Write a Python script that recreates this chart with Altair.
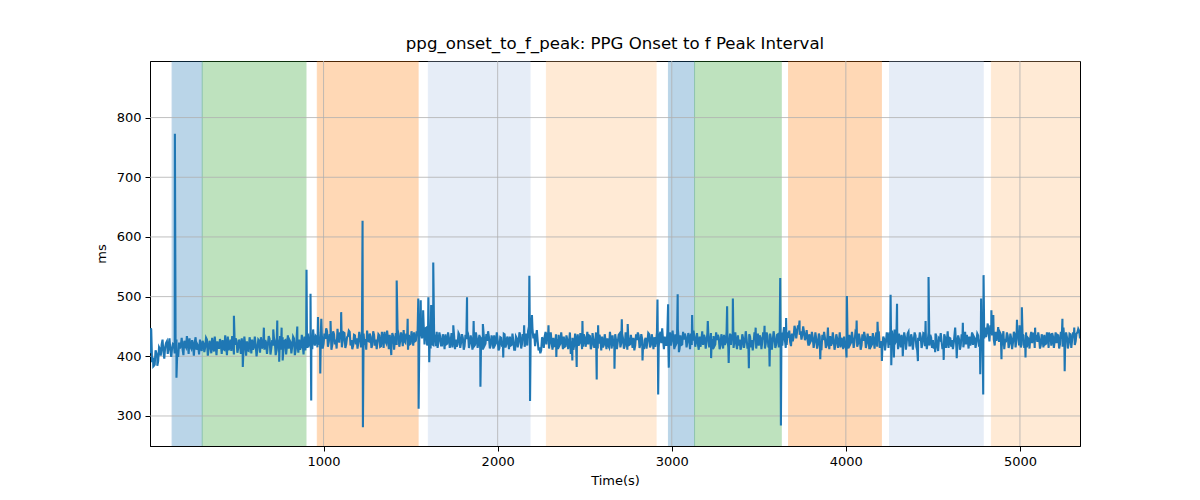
import altair as alt
import pandas as pd

# ---------------- data ----------------
SAMPLE_STEP = 10  # seconds between baseline samples; a second reading sits mid-window

base_seg_a = [432, 445, 398, 386, 405, 392, 412, 420, 408, 415, 425, 418, 410, 414]
base_seg_b = [420, 416, 410, 423, 418, 412, 426, 415, 421, 430, 413, 419, 424, 411, 417, 428, 409]
base_seg_c = [422, 415, 428, 412, 419, 431, 408, 417, 425, 414,
              420, 427, 411, 418, 433, 416, 409, 424, 419, 426,
              414, 421, 430, 412, 418, 425, 409, 422, 428, 415,
              419, 413, 426, 432, 417, 411, 423, 420, 429, 414,
              418, 425, 410, 421, 434, 416, 412, 427, 419, 413,
              424, 417, 430, 411, 422, 428, 415, 420, 433, 426]
base_seg_d = [438, 422, 430, 445, 418, 432, 440, 425, 436, 421,
              429, 442, 424, 433, 419, 437, 428, 446, 423, 431,
              426, 439, 420, 434, 441, 427, 418, 435, 430, 424,
              432, 421, 438, 429, 443, 425, 433, 419, 436, 428,
              424, 435, 417, 430, 441, 422, 429, 436, 420, 433,
              427, 419, 438, 425, 431, 444, 423, 429, 436, 421,
              433, 440, 426, 437, 430]
base_seg_e = [445, 438, 420, 448, 432, 425, 436, 419, 430, 441,
              424, 433, 418, 429, 437, 421, 431, 426, 415, 434,
              428, 420, 436, 423, 431, 417, 429, 438, 422, 427,
              433, 419, 430, 425, 412, 428, 436, 421, 426, 432,
              418, 429, 435, 422, 427, 414, 431, 424, 437, 420,
              428, 433, 419, 426, 411, 430, 423, 436, 421, 429,
              425, 418, 450, 443]
base_seg_f = [446, 438, 432, 425, 415, 410, 428, 433, 420, 436,
              427, 422, 431, 418, 429, 436, 421, 426, 433, 417,
              428, 424, 404, 431, 419, 426, 437, 422, 429, 416,
              432, 425, 420, 434, 418, 427, 423, 436, 421, 429,
              433, 419, 426, 430, 415, 428, 435, 420, 427, 424,
              438, 422, 430, 417, 428, 433, 420, 426, 431, 418,
              427, 435, 421, 429, 412, 431, 424, 437, 419, 428,
              432, 425]
base_seg_g = [430, 436, 422, 428, 433, 419, 426, 440, 431, 425, 437,
              423, 429, 435, 420, 428, 433, 424, 430, 438, 426, 432]
base_seg_h = [427, 421, 433, 426, 419, 431, 424, 437, 422, 429,
              434, 420, 427, 431, 418, 428, 436, 423, 430, 425,
              419, 432, 426, 421, 435, 428, 416, 430, 424, 429,
              420, 433, 427, 422, 436, 425, 418, 431, 424, 428,
              421, 434, 415, 429, 426, 432, 420, 437, 428, 440]
base_seg_i = [436, 427, 419, 431, 424, 438, 432, 445, 441, 447,
              442, 436, 440, 433, 428, 437, 426, 431, 424, 429,
              421, 433, 412, 427, 431, 418, 425, 434, 422, 428,
              419, 430, 424, 415, 427, 433, 420, 428, 436, 423,
              429, 425, 437, 421, 430, 418, 426, 433, 422, 428,
              434, 420, 427, 431, 416, 438, 425]
base_seg_j = [417, 429, 423, 435, 440, 422, 431, 445, 426, 412,
              428, 436, 420, 432, 425, 441, 418, 430, 427, 435,
              410, 426, 433, 421, 438, 429, 424, 418, 431, 427,
              422, 434, 409, 428, 425, 420, 432, 426, 414, 430,
              427, 423, 436, 421, 429, 418, 432, 425, 420, 428,
              433, 426, 419, 430, 424, 435, 428, 440, 445]
base_seg_k = [448, 442, 438, 452, 435, 428, 441, 433, 424, 437,
              429, 412, 426, 434, 421, 430, 423, 437, 428, 441,
              432, 420, 435, 426, 415, 429, 433, 422, 438, 427,
              424, 431, 419, 428, 436, 421, 430, 425, 418, 433,
              427, 422, 435, 420, 429, 448, 426, 432, 421, 437,
              428, 434, 425, 440, 443]

# mid-window readings (the other edge of the dense band)
mid_seg_a = [405, 390, 384, 410, 398, 415, 401, 428, 396, 422, 404, 430, 399, 421]
mid_seg_b = [405, 428, 399, 413, 431, 402, 418, 434, 404, 416, 427, 401, 432, 420, 403, 415, 426]
mid_seg_c = [407, 431, 401, 426, 405, 418, 433, 402, 414, 429,
             404, 412, 435, 402, 410, 428, 434, 403, 430, 406,
             428, 404, 413, 433, 401, 410, 432, 405, 411, 433,
             400, 428, 406, 413, 432, 427, 404, 434, 403, 427,
             431, 402, 430, 406, 411, 432, 426, 403, 435, 427,
             405, 433, 402, 429, 406, 411, 436, 403, 410, 414]
mid_seg_d = [418, 441, 412, 426, 434, 415, 423, 444, 413, 438,
             447, 416, 437, 411, 442, 420, 413, 430, 440, 415,
             440, 414, 432, 443, 418, 412, 436, 420, 413, 441,
             415, 440, 419, 411, 426, 438, 414, 442, 418, 412,
             437, 416, 441, 414, 425, 443, 412, 418, 439, 411,
             439, 445, 416, 440, 417, 425, 438, 411, 420, 442,
             418, 425, 442, 414, 447]
mid_seg_e = [430, 452, 447, 418, 441, 413, 420, 438, 417, 414,
             440, 418, 437, 412, 420, 440, 414, 439, 433, 412,
             416, 439, 414, 437, 411, 436, 442, 414, 435, 411,
             417, 440, 414, 436, 430, 411, 418, 437, 442, 413,
             435, 413, 419, 440, 410, 432, 416, 438, 415, 433,
             412, 418, 438, 411, 433, 415, 440, 413, 437, 416,
             438, 443, 428, 455]
mid_seg_f = [430, 417, 444, 410, 405, 432, 414, 441, 437, 413,
             440, 411, 417, 437, 412, 418, 440, 412, 416, 435,
             412, 440, 425, 411, 438, 414, 418, 439, 412, 437,
             416, 441, 435, 412, 439, 414, 440, 413, 436, 410,
             415, 437, 412, 418, 441, 413, 419, 437, 412, 436,
             415, 438, 413, 440, 411, 419, 436, 414, 410, 437,
             440, 414, 437, 416, 427, 413, 439, 415, 437, 412,
             416, 440]
mid_seg_g = [415, 441, 447, 412, 419, 441, 414, 418, 443, 412, 420,
             445, 413, 419, 441, 438, 415, 439, 412, 419, 443, 416]
mid_seg_h = [439, 411, 416, 442, 436, 413, 440, 415, 439, 412,
             417, 440, 436, 412, 437, 413, 419, 441, 414, 438,
             437, 414, 440, 412, 418, 411, 437, 414, 442, 413,
             437, 415, 410, 440, 413, 438, 435, 412, 440, 413,
             440, 416, 438, 411, 442, 414, 436, 415, 443, 418]
mid_seg_i = [449, 414, 440, 443, 417, 425, 451, 430, 452, 436,
             428, 450, 427, 444, 418, 423, 441, 414, 440, 413,
             438, 412, 436, 441, 414, 437, 412, 418, 440, 411,
             437, 414, 440, 431, 412, 418, 440, 413, 420, 441,
             414, 440, 416, 438, 411, 437, 441, 414, 438, 412,
             417, 439, 413, 440, 436, 414, 420]
mid_seg_j = [433, 410, 440, 414, 419, 443, 412, 423, 440, 438,
             415, 421, 440, 411, 438, 418, 437, 411, 440, 416,
             431, 440, 414, 439, 417, 412, 440, 436, 414, 413,
             438, 416, 430, 439, 412, 437, 414, 442, 431, 416,
             412, 439, 414, 435, 411, 437, 415, 441, 436, 413,
             418, 440, 433, 414, 438, 416, 421, 450, 430]
mid_seg_k = [432, 455, 425, 440, 446, 418, 426, 449, 440, 415,
             442, 427, 440, 414, 438, 412, 441, 415, 442, 418,
             415, 437, 414, 440, 431, 413, 441, 438, 414, 436,
             440, 413, 437, 415, 420, 440, 414, 438, 439, 414,
             440, 436, 413, 441, 416, 425, 440, 413, 438, 414,
             440, 419, 438, 446, 430]

spike_times = [8, 22, 45, 146, 150, 155, 485, 536, 657, 711, 734, 745, 759, 765, 849,
               902, 912, 925, 929, 968, 981, 987, 1040, 1101, 1224, 1226,
               1389, 1420, 1483, 1544, 1546, 1558, 1572, 1602, 1607, 1618, 1630,
               1745, 1824, 1862, 1901, 1915, 2032, 2152, 2182, 2186, 2197,
               2292, 2337, 2429, 2454, 2487, 2569, 2577, 2671, 2713, 2747, 2832,
               2918, 2922, 2979, 2983, 3034, 3041, 3117, 3207, 3226, 3318, 3327, 3351,
               3443, 3482, 3533, 3562, 3623, 3627, 3657, 3734, 3853, 3897,
               4004, 4006, 4062, 4182, 4207, 4257, 4261, 4276, 4294, 4327,
               4414, 4458, 4475, 4513, 4562, 4628, 4637, 4672, 4772, 4777, 4789, 4791,
               4836, 4847, 4894, 4983, 4998, 5011, 5032, 5087, 5167, 5244, 5257, 5312]
spike_values = [447, 383, 384, 773, 420, 364, 468, 382, 448, 445, 460, 391, 448, 393, 450,
                545, 415, 505, 326, 466, 371, 463, 459, 474, 627, 281,
                402, 527, 463, 497, 312, 494, 477, 499, 390, 486, 557,
                452, 499, 459, 349, 454, 398, 452, 535, 325, 469,
                452, 399, 393, 382, 459, 361, 452, 379, 462, 454, 393,
                495, 336, 487, 381, 504, 407, 469, 459, 397, 484, 389, 497,
                380, 448, 451, 383, 531, 284, 464, 460, 395, 448,
                398, 501, 460, 458, 392, 503, 385, 398, 488, 400,
                392, 459, 533, 407, 394, 448, 397, 456, 370, 497, 336, 536,
                477, 469, 395, 461, 452, 482, 398, 448, 440, 463, 375, 448]

span_start = [130, 303, 964, 1602, 2280, 2981, 3131, 3671, 4251, 4836]
span_end = [303, 899, 1543, 2186, 2910, 3131, 3629, 4204, 4789, 5345]
span_kind = ["a", "b", "c", "d", "e", "a", "b", "c", "d", "e"]
kind_names = ["a", "b", "c", "d", "e"]
kind_colors = ["#1f77b4", "#2ca02c", "#ff7f0e", "#aec7e8", "#ffbb78"]

x_domain = [3, 5345]
y_domain = [249.7, 894.8]
x_ticks = [1000, 2000, 3000, 4000, 5000]
y_ticks = [300, 400, 500, 600, 700, 800]

# ---------------- build tables ----------------
base_values = (base_seg_a + base_seg_b + base_seg_c + base_seg_d + base_seg_e +
               base_seg_f + base_seg_g + base_seg_h + base_seg_i + base_seg_j + base_seg_k)
mid_values = (mid_seg_a + mid_seg_b + mid_seg_c + mid_seg_d + mid_seg_e +
              mid_seg_f + mid_seg_g + mid_seg_h + mid_seg_i + mid_seg_j + mid_seg_k)

times, values = [], []
for i, (b, m) in enumerate(zip(base_values, mid_values)):
    times += [i * SAMPLE_STEP, i * SAMPLE_STEP + SAMPLE_STEP / 2]
    values += [b, m]

line_df = pd.DataFrame({"t": times + spike_times,
                        "v": values + spike_values}).sort_values("t", kind="stable")
line_df = line_df[line_df["t"] <= x_domain[1]]
span_df = pd.DataFrame({"start": span_start, "end": span_end, "kind": span_kind})
xgrid_df = pd.DataFrame({"gx": x_ticks})
ygrid_df = pd.DataFrame({"gy": y_ticks})

FONT = "DejaVu Sans"
GRID = "#b0b0b0"

x_scale = alt.Scale(domain=x_domain, nice=False, zero=False)
y_scale = alt.Scale(domain=y_domain, nice=False, zero=False)

spans = alt.Chart(span_df).mark_rect(opacity=0.3, strokeWidth=1, clip=True).encode(
    x=alt.X("start:Q", scale=x_scale),
    x2="end:Q",
    fill=alt.Fill("kind:N", scale=alt.Scale(domain=kind_names, range=kind_colors), legend=None),
    stroke=alt.Stroke("kind:N", scale=alt.Scale(domain=kind_names, range=kind_colors), legend=None),
)

# grid drawn above the shaded spans but below the line (as matplotlib does)
xgrid = alt.Chart(xgrid_df).mark_rule(color=GRID, strokeWidth=0.8).encode(
    x=alt.X("gx:Q", scale=x_scale)
)
ygrid = alt.Chart(ygrid_df).mark_rule(color=GRID, strokeWidth=0.8).encode(
    y=alt.Y("gy:Q", scale=y_scale)
)

line = alt.Chart(line_df).mark_line(color="#1f77b4", strokeWidth=2.1, clip=True).encode(
    x=alt.X("t:Q", scale=x_scale,
            axis=alt.Axis(title="Time(s)", values=x_ticks, format="d", titlePadding=6)),
    y=alt.Y("v:Q", scale=y_scale,
            axis=alt.Axis(title="ms", values=y_ticks, format="d", titlePadding=8)),
)

chart = alt.layer(spans, xgrid, ygrid, line).properties(
    width=930,
    height=385,
    autosize=alt.AutoSizeParams(type="none"),
    padding={"left": 142, "top": 53, "right": 110, "bottom": 45},
    title=alt.TitleParams(
        "ppg_onset_to_f_peak: PPG Onset to f Peak Interval",
        font=FONT, fontSize=16.6, fontWeight="normal", color="black",
        anchor="middle", offset=8,
    ),
).configure_axis(
    grid=False,
    domainColor="black", domainWidth=1, tickColor="black", tickSize=5,
    labelColor="black", titleColor="black",
    labelFont=FONT, titleFont=FONT, labelFontSize=13, titleFontSize=13,
    titleFontWeight="normal", labelPadding=4,
).configure_view(stroke="black", strokeWidth=1)

chart.save("out.html", embed_options={"renderer": "svg", "actions": False})
